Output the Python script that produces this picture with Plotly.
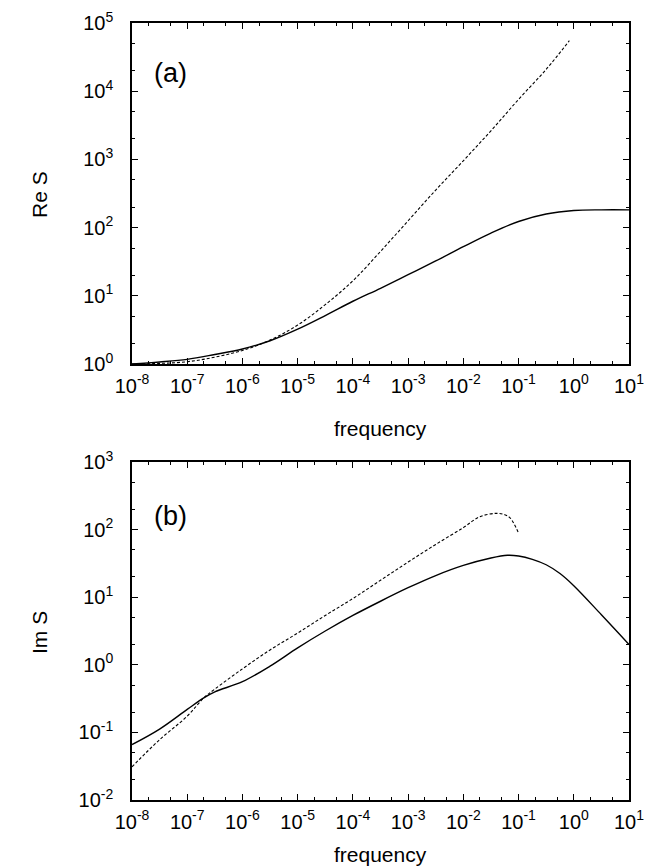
import plotly.graph_objects as go

# ---- data ----
# panel (a): Re S
re_solid_fexp = [-8, -7.5, -7, -6.5, -6, -5.5, -5, -4.5, -4, -3.5, -3, -2.5, -2, -1.5, -1, -0.5, 0, 0.5, 1]
re_solid_val = [1.00, 1.07, 1.17, 1.38, 1.66, 2.19, 3.24, 5.13, 8.32, 12.9, 20.4, 32.4, 52.5, 83.2, 123, 158, 178, 182, 182]

re_dash_fexp = [-8, -7.5, -7, -6.5, -6, -5.5, -5, -4.5, -4, -3.5, -3, -2.5, -2, -1.5, -1, -0.5, -0.08]
re_dash_val = [1.00, 1.02, 1.08, 1.26, 1.58, 2.24, 3.72, 7.41, 16.6, 44.7, 126, 355, 955, 2630, 7590, 20900, 55000]

# panel (b): Im S
im_solid_fexp = [-8, -7.5, -7, -6.7, -6.5, -6, -5.5, -5, -4.5, -4, -3.5, -3, -2.5, -2, -1.5, -1.2, -1,
                 -0.75, -0.5, -0.25, 0, 0.5, 1]
im_solid_val = [0.066, 0.112, 0.219, 0.324, 0.398, 0.562, 0.955, 1.78, 3.16, 5.37, 8.71, 13.8, 20.9, 29.5,
                38.0, 41.7, 40.7, 36.3, 30.2, 22.4, 14.8, 5.50, 2.00]

im_dash_fexp = [-8, -7.5, -7, -6.7, -6.5, -6, -5.5, -5, -4.5, -4, -3.5, -3, -2.5, -2, -1.7, -1.4, -1.25,
                -1.15, -1.0]
im_dash_val = [0.031, 0.078, 0.174, 0.324, 0.437, 0.871, 1.66, 2.95, 5.37, 9.55, 17.8, 33.1, 60.3, 107,
               155, 174, 166, 148, 89]

x_tick_exp = [-8, -7, -6, -5, -4, -3, -2, -1, 0, 1]
y1_tick_exp = [0, 1, 2, 3, 4, 5]
y2_tick_exp = [-2, -1, 0, 1, 2, 3]


def f(exps):
    return [10 ** e for e in exps]


def sup_labels(exps):
    return ["10<sup>%d</sup>" % e for e in exps]


def minor_vals(exps):
    out = []
    for e in exps[:-1]:
        out += [2 * 10 ** e, 5 * 10 ** e]
    return out


FONT = "Liberation Sans, Arial, Helvetica, sans-serif"
W, H = 656, 867
xdom = [124 / W, 621 / W]
ydom1 = [1 - 356 / H, 1 - 15 / H]
ydom2 = [1 - 792 / H, 1 - 454 / H]

fig = go.Figure()
solid = dict(color="black", width=1.4)
dashed = dict(color="black", width=1.1, dash="3px,2px")

fig.add_trace(go.Scatter(x=f(re_solid_fexp), y=re_solid_val, mode="lines", line=solid,
                         line_shape="spline", xaxis="x", yaxis="y", showlegend=False))
fig.add_trace(go.Scatter(x=f(re_dash_fexp), y=re_dash_val, mode="lines", line=dashed,
                         line_shape="spline", xaxis="x", yaxis="y", showlegend=False))
fig.add_trace(go.Scatter(x=f(im_solid_fexp), y=im_solid_val, mode="lines", line=solid,
                         line_shape="spline", xaxis="x2", yaxis="y2", showlegend=False))
fig.add_trace(go.Scatter(x=f(im_dash_fexp), y=im_dash_val, mode="lines", line=dashed,
                         line_shape="spline", xaxis="x2", yaxis="y2", showlegend=False))

TICK = 20
common = dict(type="log", showgrid=False, zeroline=False, showline=True, linecolor="black",
              linewidth=1.5, mirror="allticks", ticks="inside", ticklen=6, tickwidth=1,
              tickcolor="black", automargin=False, ticklabeloverflow="allow",
              tickfont=dict(family=FONT, size=TICK, color="black"))

xaxis_common = dict(common, range=[-8, 1], tickvals=f(x_tick_exp), ticktext=sup_labels(x_tick_exp),
                    ticklabelstandoff=3,
                    minor=dict(tickvals=minor_vals(x_tick_exp), ticks="inside", ticklen=3,
                               tickcolor="black", showgrid=False))

fig.update_layout(
    width=W, height=H, margin=dict(l=0, r=0, t=0, b=0, autoexpand=False),
    paper_bgcolor="white", plot_bgcolor="white",
    font=dict(family=FONT, color="black"),
    xaxis=dict(xaxis_common, domain=xdom, anchor="y"),
    yaxis=dict(common, domain=ydom1, anchor="x", range=[0, 5], tickvals=f(y1_tick_exp),
               ticktext=sup_labels(y1_tick_exp), ticklabelstandoff=13,
               minor=dict(tickvals=minor_vals(y1_tick_exp), ticks="inside", ticklen=3,
                          tickcolor="black", showgrid=False)),
    xaxis2=dict(xaxis_common, domain=xdom, anchor="y2"),
    yaxis2=dict(common, domain=ydom2, anchor="x2", range=[-2, 3], tickvals=f(y2_tick_exp),
                ticktext=sup_labels(y2_tick_exp), ticklabelstandoff=13,
                minor=dict(tickvals=minor_vals(y2_tick_exp), ticks="inside", ticklen=3,
                           tickcolor="black", showgrid=False)),
    showlegend=False,
)

ann_font = dict(family=FONT, size=21, color="black")
annotations = [
    dict(text="frequency", x=(124 + 621) / 2 / W, y=1 - 420 / H, xref="paper", yref="paper",
         showarrow=False, font=ann_font, xanchor="center", yanchor="middle"),
    dict(text="frequency", x=(124 + 621) / 2 / W, y=1 - 846 / H, xref="paper", yref="paper",
         showarrow=False, font=ann_font, xanchor="center", yanchor="middle"),
    dict(text="Re S", x=31 / W, y=1 - 187 / H, xref="paper", yref="paper", textangle=-90,
         showarrow=False, font=ann_font, xanchor="center", yanchor="middle"),
    dict(text="Im S", x=31 / W, y=1 - 625 / H, xref="paper", yref="paper", textangle=-90,
         showarrow=False, font=ann_font, xanchor="center", yanchor="middle"),
    dict(text="(a)", x=162 / W, y=1 - 65 / H, xref="paper", yref="paper",
         showarrow=False, font=dict(family=FONT, size=27, color="black"),
         xanchor="center", yanchor="middle"),
    dict(text="(b)", x=162 / W, y=1 - 508 / H, xref="paper", yref="paper",
         showarrow=False, font=dict(family=FONT, size=27, color="black"),
         xanchor="center", yanchor="middle"),
]
fig.update_layout(annotations=annotations)

fig.write_html("out.html")
